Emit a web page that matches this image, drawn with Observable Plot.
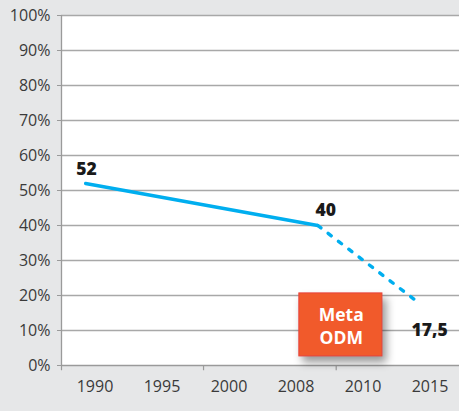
<!DOCTYPE html>
<html>
<head>
<meta charset="utf-8">
<script src="https://cdn.jsdelivr.net/npm/d3@7"></script>
<script src="https://cdn.jsdelivr.net/npm/@observablehq/plot@0.6"></script>
<style>
  html, body { margin: 0; padding: 0; background: #e6e7e8; }
  #chart svg { display: block; }
</style>
</head>
<body>
<div id="chart"></div>
<script>
// ---- data ----
const categoryYears = [1990, 1995, 2000, 2008, 2010, 2015];      // x tick labels
const yTickValues = [0, 10, 20, 30, 40, 50, 60, 70, 80, 90, 100]; // y ticks (%)
const observedYears = [1989.3, 2008.65];   // solid segment (x)
const observedValues = [52, 40];
const targetYears = [2008.65, 2014.3];     // dotted segment to the MDG target
const targetValues = [40, 17.5];
const pointLabels = ["52", "40", "17,5"];
const boxLabel = "Meta\nODM";

// tables built from the arrays
const observed = observedYears.map((x, i) => ({x, y: observedValues[i]}));
const target = targetYears.map((x, i) => ({x, y: targetValues[i]}));
const lab52 = [{x: observedYears[0], y: observedValues[0], t: pointLabels[0]}];
const lab40 = [{x: observedYears[1], y: observedValues[1], t: pointLabels[1]}];
const lab175 = [{x: targetYears[1], y: targetValues[1], t: pointLabels[2]}];

const W = 459, H = 411;
const mL = 61, mR = 0, mT = 15, mB = 46;
const band = (W - mL - mR + 4) / categoryYears.length;
const xRange = categoryYears.map((_, i) => mL + band * (i + 0.5));
const leftEdge = categoryYears[0] - 2.5; // left boundary of the first category

const lblStyle = {x: "x", y: "y", text: "t", fontWeight: 800, fontSize: 17.5, fill: "#1a1a1a"};

const chart = Plot.plot({
  width: W, height: H,
  marginLeft: mL, marginRight: mR, marginTop: mT, marginBottom: mB,
  style: {background: "#e6e7e8", fontFamily: "'Open Sans', sans-serif", fontSize: "15px", color: "#3a3a3a"},
  x: {type: "linear", domain: categoryYears, range: xRange},
  y: {domain: [0, 100]},
  marks: [
    Plot.frame({fill: "white", stroke: null}),
    Plot.ruleY(yTickValues.filter(d => d > 0), {stroke: "#a8a8a8", strokeWidth: 1.4}),
    Plot.ruleY([0], {stroke: "#9a9a9a", strokeWidth: 1.3}),
    Plot.ruleX([leftEdge], {stroke: "#9a9a9a", strokeWidth: 1.3}),
    Plot.ruleX([leftEdge, 1998.1, 2009.2], {y1: 0, y2: -1.5, stroke: "#9a9a9a", strokeWidth: 1.2}),
    Plot.axisY({ticks: yTickValues, tickFormat: d => d + "%", tickSize: 4, tickPadding: 7, stroke: "#9a9a9a", fill: "#3a3a3a", fontSize: 16, label: null}),
    Plot.axisX({ticks: categoryYears, tickFormat: d => String(d), tickSize: 0, tickPadding: 15, fill: "#3a3a3a", fontSize: 16, label: null}),
    Plot.line(observed, {x: "x", y: "y", stroke: "#00aeef", strokeWidth: 3.4}),
    Plot.line(target, {x: "x", y: "y", stroke: "#00aeef", strokeWidth: 3.4, strokeDasharray: "4,9"}),
    Plot.text(lab52, {...lblStyle, dx: 1, dy: -14}),
    Plot.text(lab40, {...lblStyle, dx: 8, dy: -15}),
    Plot.text(lab175, {...lblStyle, dx: 9, dy: 26}),
    Plot.rect([{x1: 2008.1, x2: 2011.45, y1: 2.6, y2: 20.6}], {x1: "x1", x2: "x2", y1: "y1", y2: "y2", fill: "#f15a2b", stroke: "#e8413a", strokeWidth: 1}),
    Plot.text([{x: 2009.35, y: 11.6, t: boxLabel}], {x: "x", y: "y", text: "t", fill: "white", fontWeight: 700, fontSize: 17.5, lineHeight: 1.3})
  ]
});

document.getElementById("chart").appendChild(chart);
const svg = d3.select(chart);
svg.selectAll('g[aria-label="rect"] rect').style("filter", "drop-shadow(4px 6px 4px rgba(0,0,0,0.4))");
</script>
</body>
</html>
